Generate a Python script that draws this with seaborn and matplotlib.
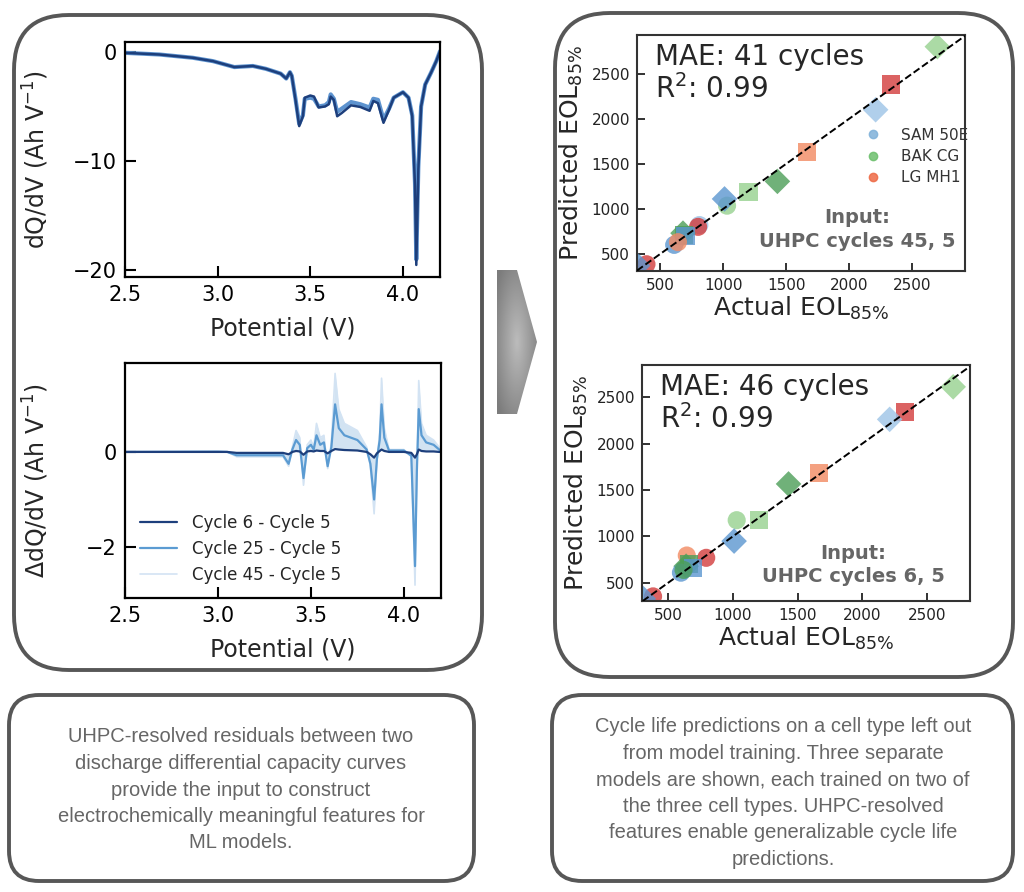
import numpy as np
import pandas as pd
import matplotlib
matplotlib.use("Agg")
import matplotlib.pyplot as plt
import seaborn as sns
from matplotlib.patches import FancyBboxPatch, Polygon
from matplotlib.lines import Line2D
from matplotlib.colors import LinearSegmentedColormap

sns.set_style("white")
plt.rcParams['font.family'] = ['DejaVu Sans']
plt.rcParams['axes.unicode_minus'] = True

# dQ/dV curves (top left)
dqdv_v = [2.50, 2.685, 2.866, 2.975, 3.09, 3.19, 3.26, 3.34, 3.37, 3.39, 3.40, 3.42, 3.44, 3.46,
          3.47, 3.50, 3.52, 3.545, 3.58, 3.60, 3.61, 3.627, 3.645, 3.67, 3.72, 3.77, 3.82, 3.84,
          3.865, 3.895, 3.925, 3.95, 4.00, 4.03, 4.05, 4.065, 4.072, 4.083, 4.098, 4.12, 4.152,
          4.18, 4.20]
dqdv_cycle5 = [-0.1, -0.25, -0.55, -0.86, -1.4, -1.3, -1.56, -2.0, -2.45, -1.87, -2.2, -4.4, -6.8,
               -5.9, -4.2, -4.0, -4.1, -5.1, -5.0, -4.8, -4.1, -4.4, -5.9, -5.6, -4.9, -5.05, -5.4,
               -4.5, -4.7, -6.5, -5.3, -4.2, -3.7, -4.2, -5.9, -12.3, -19.5, -10.8, -5.0, -3.0,
               -1.9, -0.85, 0.05]
dqdv_cycle45 = [-0.1, -0.25, -0.55, -0.86, -1.4, -1.3, -1.56, -2.0, -2.45, -1.87, -2.2, -4.3, -6.6,
                -5.8, -4.3, -4.2, -4.3, -5.0, -4.9, -4.6, -3.9, -4.3, -5.5, -5.2, -4.6, -4.8, -5.1,
                -4.3, -4.4, -6.2, -5.2, -4.2, -3.7, -4.2, -5.8, -12.0, -19.0, -10.5, -5.0, -3.0,
                -1.9, -0.85, 0.05]

# residual curves (bottom left)
resid_v = [2.50, 3.00, 3.05, 3.10, 3.35, 3.38, 3.40, 3.42, 3.44, 3.46, 3.48, 3.50, 3.515, 3.53,
           3.55, 3.57, 3.59, 3.61, 3.63, 3.65, 3.68, 3.75, 3.80, 3.82, 3.84, 3.855, 3.87, 3.88,
           3.895, 3.92, 4.00, 4.04, 4.06, 4.07, 4.08, 4.095, 4.12, 4.16, 4.19, 4.20]
resid_cycle6 = [0, 0, 0, -0.02, -0.02, -0.05, 0, 0.02, 0.01, -0.06, 0.01, 0.02, 0.01, 0.03, 0.02,
                0.02, -0.03, 0.02, 0.06, 0.05, 0.04, 0.03, 0.0, -0.05, -0.12, -0.03, 0.02, 0.05,
                0.02, 0.0, 0.0, -0.02, -0.12, -0.05, 0.05, 0.02, 0.01, 0.01, 0.0, 0.0]
resid_cycle25 = [0, 0.005, 0.0, -0.07, -0.07, -0.25, 0.05, 0.25, 0.15, -0.55, 0.08, 0.15, 0.05,
                 0.35, 0.15, 0.2, -0.3, 0.1, 1.0, 0.5, 0.35, 0.25, 0.05, -0.25, -1.0, -0.15, 0.25,
                 1.0, 0.3, 0.03, 0.03, -0.08, -2.4, -0.4, 0.9, 0.35, 0.2, 0.15, 0.05, 0.0]
resid_cycle45 = [0, 0.01, 0.0, -0.1, -0.1, -0.3, 0.1, 0.45, 0.3, -0.7, 0.15, 0.25, 0.1, 0.6, 0.3,
                 0.35, -0.35, 0.2, 1.65, 0.9, 0.6, 0.45, 0.1, -0.3, -1.3, -0.2, 0.4, 1.55, 0.5,
                 0.05, 0.05, -0.1, -2.8, -0.5, 1.5, 0.6, 0.35, 0.25, 0.1, 0.0]
resid_labels = ['Cycle 6 - Cycle 5', 'Cycle 25 - Cycle 5', 'Cycle 45 - Cycle 5']

# EOL predictions (right)
eol_actual = [2700, 2330, 2210, 1665, 1430, 1200, 1030, 1010, 810, 800, 690, 680, 700, 610, 640, 390, 320]
eol_pred_45 = [2800, 2380, 2100, 1630, 1305, 1190, 1035, 1110, 820, 800, 710, 730, 700, 600, 630, 385, 370]
eol_shade_45 = ['bak_l', 'lg_d', 'sam_l', 'lg_l', 'bak_d', 'bak_l', 'bak_l', 'sam_d', 'sam_l', 'lg_d',
                'bak_d', 'bak_d', 'sam_d', 'sam_d', 'lg_l', 'lg_d', 'sam_d']
eol_shape_45 = ['D', 's', 'D', 's', 'D', 's', 'o', 'D', 'o', 'o', 's', 'D', 's', 'o', 'o', 'o', 'D']

eol_actual_6 = [2700, 2330, 2210, 1665, 1430, 1200, 1030, 1010, 795, 645, 660, 640, 690, 600, 620, 385, 310]
eol_pred_6 = [2610, 2335, 2260, 1680, 1565, 1180, 1175, 950, 770, 795, 700, 680, 660, 610, 640, 355, 330]
eol_shade_6 = ['bak_l', 'lg_d', 'sam_l', 'lg_l', 'bak_d', 'bak_l', 'bak_l', 'sam_d', 'lg_d', 'lg_l',
               'bak_d', 'bak_d', 'sam_d', 'sam_d', 'bak_d', 'lg_d', 'sam_d']
eol_shape_6 = ['D', 's', 'D', 's', 'D', 's', 'o', 'D', 'o', 'o', 's', 'D', 's', 'o', 'o', 'o', 'D']

shade_colors = {'sam_l': '#9cc3e6', 'sam_d': '#5b96d0', 'bak_l': '#96d18f', 'bak_d': '#4c9e58',
                'lg_l': '#f28a62', 'lg_d': '#d23c3c'}
cell_names = ['SAM 50E', 'BAK CG', 'LG MH1']
cell_colors = ['#7fb1d9', '#6cbf6c', '#ee6a45']

fig = plt.figure(figsize=(10.24, 8.92), dpi=100)

# background layer in pixel units
bg = fig.add_axes([0, 0, 1, 1])
bg.set_xlim(0, 1024)
bg.set_ylim(892, 0)
bg.axis('off')

for (x0, y0, w, h, r) in [(14, 15, 468, 655, 55), (555, 13, 458, 664, 55),
                          (9, 695, 465, 186, 30), (552, 695, 461, 186, 30)]:
    bg.add_patch(FancyBboxPatch((x0, y0), w, h, boxstyle=f"round,pad=0,rounding_size={r}",
                                fc='white', ec='#575757', lw=2.8))

arrow = Polygon([(497, 270), (517, 270), (537, 342), (517, 414), (497, 414)], closed=True,
                fc='none', ec='none')
bg.add_patch(arrow)
gx, gy = np.meshgrid(np.linspace(-1, 1, 60), np.linspace(-1, 1, 150))
grad = np.sqrt(gx ** 2 + gy ** 2)
gcmap = LinearSegmentedColormap.from_list('g', ['#bcbcbc', '#7c7c7c'])
im = bg.imshow(grad, cmap=gcmap, vmin=0, vmax=1.3, extent=(497, 537, 414, 270), aspect='auto')
im.set_clip_path(arrow)

box_font = ['Liberation Sans Narrow', 'Liberation Sans', 'DejaVu Sans']
bg.text(241, 790, "UHPC-resolved residuals between two\ndischarge differential capacity curves\n"
        "provide the input to construct\nelectrochemically meaningful features for\nML models.",
        ha='center', va='center', fontsize=14.5, color='#666666', family=box_font, linespacing=1.5)
bg.text(783, 793, "Cycle life predictions on a cell type left out\nfrom model training. Three separate\n"
        "models are shown, each trained on two of\nthe three cell types. UHPC-resolved\n"
        "features enable generalizable cycle life\npredictions.",
        ha='center', va='center', fontsize=14.5, color='#666666', family=box_font, linespacing=1.5)


def style_left(ax):
    for s in ax.spines.values():
        s.set_color('black')
        s.set_linewidth(1.6)
    ax.tick_params(direction='in', length=8, width=1.5, labelsize=15, colors='black',
                   bottom=True, left=True, top=False, right=False, pad=6)
    ax.set_xlim(2.5, 4.2)
    ax.set_xticks([2.5, 3.0, 3.5, 4.0])
    ax.set_xlabel('Potential (V)', fontsize=17)
    ax.xaxis.set_label_coords(0.5, -0.17)
    ax.xaxis.label.set_va('top')


# top left: dQ/dV
ax1 = fig.add_axes([0.1221, 0.6895, 0.3076, 0.2635])
sns.lineplot(x=dqdv_v, y=dqdv_cycle45, ax=ax1, color='#5d93cf', lw=3, sort=False, estimator=None)
sns.lineplot(x=dqdv_v, y=dqdv_cycle5, ax=ax1, color='#1d3f7c', lw=1.8, sort=False, estimator=None)
style_left(ax1)
ax1.set_ylim(-20.6, 0.9)
ax1.set_yticks([-20, -10, 0])
ax1.set_ylabel('dQ/dV (Ah V$^{-1}$)', fontsize=17)
ax1.yaxis.set_label_coords(-0.235, 0.5)

# bottom left: residuals
ax2 = fig.add_axes([0.1221, 0.3296, 0.3086, 0.2635])
ax2.fill_between(resid_v, resid_cycle6, resid_cycle45, color='#9cc2e4', alpha=0.45, lw=0)
sns.lineplot(x=resid_v, y=resid_cycle45, ax=ax2, color='#d3e3f3', lw=1.2, sort=False,
             estimator=None, label=resid_labels[2])
sns.lineplot(x=resid_v, y=resid_cycle25, ax=ax2, color='#5b9bd2', lw=1.6, sort=False,
             estimator=None, label=resid_labels[1])
sns.lineplot(x=resid_v, y=resid_cycle6, ax=ax2, color='#1d3f7c', lw=1.6, sort=False,
             estimator=None, label=resid_labels[0])
style_left(ax2)
ax2.set_ylim(-3.07, 1.87)
ax2.set_yticks([-2, 0])
ax2.set_ylabel('ΔdQ/dV (Ah V$^{-1}$)', fontsize=17)
ax2.yaxis.set_label_coords(-0.235, 0.5)
handles, labels = ax2.get_legend_handles_labels()
ax2.legend(handles[::-1], labels[::-1], loc='lower left', bbox_to_anchor=(0.0, -0.005),
           frameon=False, fontsize=12, handlelength=2.2, handletextpad=0.9, labelspacing=0.5)


def eol_panel(rect, actual, pred, shade, shape, xlim, ylim, mae, inp, inp_xy, legend):
    ax = fig.add_axes(rect)
    df = pd.DataFrame({'actual': actual, 'predicted': pred, 'shade': shade, 'shape': shape})
    sns.scatterplot(data=df, x='actual', y='predicted', hue='shade', style='shape',
                    palette=shade_colors, markers={'o': 'o', 's': 's', 'D': 'D'}, s=170,
                    alpha=0.8, linewidth=0, legend=False, ax=ax, zorder=2)
    ax.axline((0, 0), slope=1, color='black', ls='--', lw=1.4, zorder=3)
    ax.set_xlim(*xlim)
    ax.set_ylim(*ylim)
    ax.set_xticks([500, 1000, 1500, 2000, 2500])
    ax.set_yticks([500, 1000, 1500, 2000, 2500])
    for s in ax.spines.values():
        s.set_color('#333333')
        s.set_linewidth(1.5)
    ax.tick_params(direction='in', length=6, width=1.3, labelsize=11, colors='#222222',
                   bottom=True, left=True, top=False, right=False, pad=5)
    ax.set_xlabel('Actual EOL$_{85\\%}$', fontsize=18)
    ax.set_ylabel('Predicted EOL$_{85\\%}$', fontsize=18)
    ax.xaxis.set_label_coords(0.5, -0.10)
    ax.xaxis.label.set_va('top')
    ax.yaxis.set_label_coords(-0.16, 0.5)
    ax.text(0.055, 0.965, f'MAE: {mae} cycles\nR$^2$: 0.99', transform=ax.transAxes,
            ha='left', va='top', fontsize=20, linespacing=1.1)
    ax.text(inp_xy[0], inp_xy[1], f'Input:\nUHPC cycles {inp}', transform=ax.transAxes,
            ha='center', va='center', fontsize=14, fontweight='bold', color='#666666',
            linespacing=1.3)
    if legend:
        hs = [Line2D([], [], marker='o', ls='', color=c, markersize=6, alpha=0.85)
              for c in cell_colors]
        ax.legend(hs, cell_names, loc='upper left', bbox_to_anchor=(0.655, 0.665), frameon=False,
                  fontsize=11, handlelength=1.0, handletextpad=1.3, labelspacing=0.4,
                  labelcolor='#333333')
    return ax


eol_panel([0.6221, 0.6962, 0.3203, 0.2646], eol_actual, eol_pred_45, eol_shade_45, eol_shape_45,
          (315, 2920), (310, 2930), 41, '45, 5', (0.67, 0.175), True)
eol_panel([0.6270, 0.3262, 0.3203, 0.2646], eol_actual_6, eol_pred_6, eol_shade_6, eol_shape_6,
          (300, 2830), (305, 2845), 46, '6, 5', (0.643, 0.153), False)

fig.savefig('out.png', dpi=100)
